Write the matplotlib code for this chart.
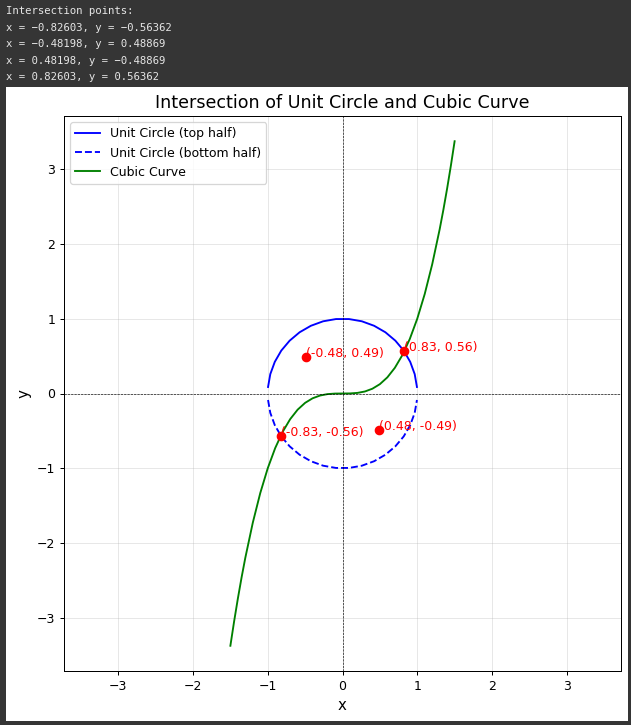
import numpy as np
import matplotlib
matplotlib.use("Agg")
import matplotlib.pyplot as plt
from matplotlib.patches import Rectangle

# circle (top half, left to right)
circ_x = [-0.996, -0.966, -0.906, -0.819, -0.707, -0.574, -0.423, -0.259, -0.087,
          0.087, 0.259, 0.423, 0.574, 0.707, 0.819, 0.906, 0.966, 0.996]
circ_top = [0.087, 0.259, 0.423, 0.574, 0.707, 0.819, 0.906, 0.966, 0.996,
            0.996, 0.966, 0.906, 0.819, 0.707, 0.574, 0.423, 0.259, 0.087]
circ_bot = [-v for v in circ_top]

# cubic curve
cub_x = [-1.5, -1.45, -1.4, -1.35, -1.3, -1.2, -1.1, -1.0, -0.9, -0.8, -0.7, -0.6, -0.5,
         -0.4, -0.3, -0.2, -0.1, 0.0, 0.1, 0.2, 0.3, 0.4, 0.5, 0.6, 0.7, 0.8,
         0.9, 1.0, 1.1, 1.2, 1.3, 1.35, 1.4, 1.45, 1.5]
cub_y = [-3.375, -3.049, -2.744, -2.460, -2.197, -1.728, -1.331, -1.0, -0.729, -0.512,
         -0.343, -0.216, -0.125, -0.064, -0.027, -0.008, -0.001, 0.0, 0.001, 0.008,
         0.027, 0.064, 0.125, 0.216, 0.343, 0.512, 0.729, 1.0, 1.331, 1.728, 2.197,
         2.460, 2.744, 3.049, 3.375]

# printed intersection points
pts_x = [-0.82603, -0.48198, 0.48198, 0.82603]
pts_y = [-0.56362, 0.48869, -0.48869, 0.56362]

W, H = 631, 725
DPI = 90
fig = plt.figure(figsize=(W / DPI, H / DPI), dpi=DPI, facecolor="#353535")

# white figure area of the notebook output
fig.patches.append(Rectangle((6 / W, 1 - 721 / H), 622 / W, 634 / H,
                             transform=fig.transFigure, facecolor="white",
                             edgecolor="none", zorder=-10))

header = ["Intersection points:"]
for px, py in zip(pts_x, pts_y):
    header.append("x = %.5f, y = %.5f" % (px, py))
for i, line in enumerate(header):
    fig.text(6 / W, 1 - (11 + 16.6 * i) / H, line.replace("-", "\u2212"),
             color="#e6e6e6", fontsize=8.5, family="DejaVu Sans Mono",
             va="center", ha="left")

ax = fig.add_axes([64 / W, 1 - 671 / H, 557 / W, 555 / H])
ax.plot(circ_x, circ_top, color="blue", label="Unit Circle (top half)")
ax.plot(circ_x, circ_bot, color="blue", linestyle="--", label="Unit Circle (bottom half)")
ax.plot(cub_x, cub_y, color="green", label="Cubic Curve")

ax.scatter(pts_x, pts_y, color="red", s=45, zorder=5)
for px, py in zip(pts_x, pts_y):
    ax.text(px, py, "(%.2f, %.2f)" % (px, py), color="red", fontsize=10)

ax.axhline(0, color="black", linestyle="--", linewidth=0.5)
ax.axvline(0, color="black", linestyle="--", linewidth=0.5)
ax.set_title("Intersection of Unit Circle and Cubic Curve", fontsize=14)
ax.set_xlabel("x", fontsize=12)
ax.set_ylabel("y", fontsize=12)
ax.grid(True, alpha=0.3)
ax.legend(loc="upper left")
ax.axis("equal")

fig.savefig("out.png", dpi=DPI, facecolor=fig.get_facecolor())
